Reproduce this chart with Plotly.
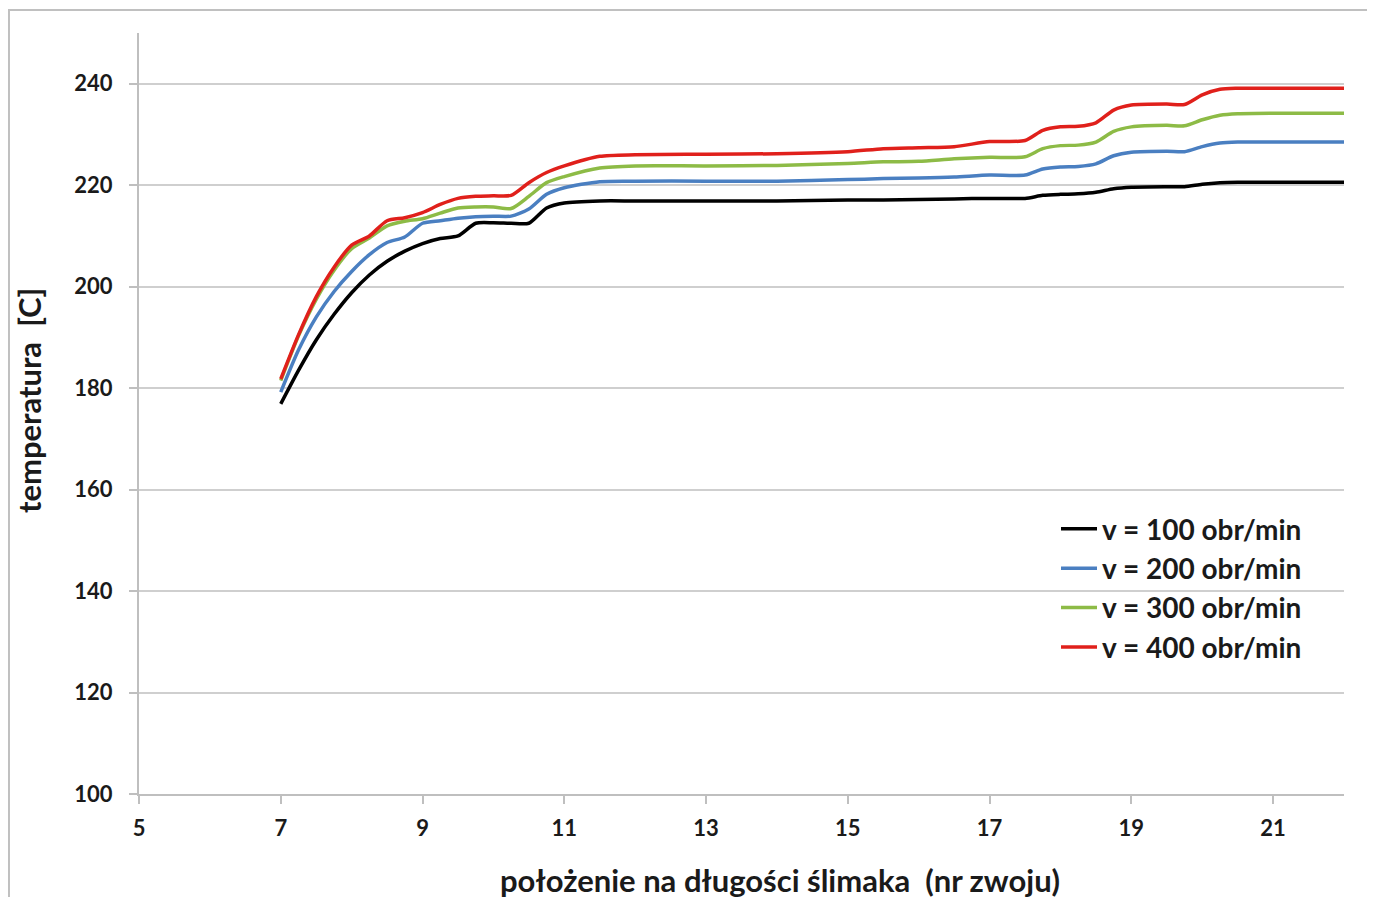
import plotly.graph_objects as go

x_pos = [7, 7.25, 7.5, 7.75, 8, 8.25, 8.5, 8.75, 9, 9.25, 9.5, 9.75, 10, 10.25, 10.5, 10.75,
         11, 11.5, 12, 13, 14, 15, 15.5, 16, 16.5, 17, 17.5, 17.75, 18, 18.25, 18.5, 18.75,
         19, 19.5, 19.75, 20, 20.25, 20.5, 21, 22]

t_100 = [176.9, 183.5, 189.5, 194.5, 198.8, 202.3, 205.0, 207.0, 208.5, 209.5, 210.0, 212.5,
         212.6, 212.5, 212.5, 215.5, 216.5, 216.9, 216.9, 216.9, 216.9, 217.1, 217.1, 217.2,
         217.3, 217.4, 217.4, 218.0, 218.2, 218.3, 218.6, 219.3, 219.6, 219.7, 219.7, 220.2,
         220.5, 220.6, 220.6, 220.6]
t_200 = [179.2, 187.5, 194.0, 199.0, 203.0, 206.3, 208.7, 209.8, 212.5, 213.0, 213.5, 213.8,
         213.9, 213.9, 215.3, 218.2, 219.5, 220.7, 220.8, 220.8, 220.8, 221.1, 221.3, 221.4,
         221.6, 222.0, 222.0, 223.2, 223.6, 223.7, 224.2, 225.8, 226.5, 226.7, 226.6, 227.6,
         228.3, 228.5, 228.5, 228.5]
t_300 = [181.5, 190.3, 197.5, 203.2, 207.5, 209.6, 212.0, 212.9, 213.4, 214.5, 215.5, 215.7,
         215.7, 215.4, 217.8, 220.5, 221.7, 223.4, 223.8, 223.8, 223.9, 224.3, 224.6, 224.7,
         225.2, 225.5, 225.6, 227.2, 227.8, 227.9, 228.5, 230.6, 231.5, 231.8, 231.7, 232.9,
         233.8, 234.1, 234.2, 234.2]
t_400 = [181.8, 190.5, 198.0, 203.8, 208.2, 210.0, 213.0, 213.6, 214.6, 216.2, 217.4, 217.8,
         217.9, 218.0, 220.5, 222.5, 223.8, 225.7, 226.0, 226.1, 226.2, 226.6, 227.2, 227.4,
         227.6, 228.6, 228.8, 230.8, 231.5, 231.6, 232.3, 234.8, 235.8, 236.0, 235.9, 237.8,
         238.9, 239.1, 239.1, 239.1]

series_names = ["v = 100 obr/min", "v = 200 obr/min", "v = 300 obr/min", "v = 400 obr/min"]
series_vals = [t_100, t_200, t_300, t_400]
series_colors = ["#000000", "#4a7fc1", "#8dbb46", "#e0201b"]

x_ticks = [5, 7, 9, 11, 13, 15, 17, 19, 21]
y_ticks = [100, 120, 140, 160, 180, 200, 220, 240]

x_title = "położenie na długości ślimaka  (nr zwoju)"
y_title = "temperatura  [C]"

FONT = "Lato"
TXT = "#1a1a1a"

fig = go.Figure()
for name, vals, col in zip(series_names, series_vals, series_colors):
    fig.add_trace(go.Scatter(
        x=x_pos, y=vals, mode="lines", name=name, legendgroup=name,
        line=dict(color=col, width=3.5, shape="spline", smoothing=0.7),
    ))

fig.update_layout(
    width=1375, height=897,
    margin=dict(l=131, r=39, t=25, b=111),
    paper_bgcolor="white", plot_bgcolor="white",
    font=dict(family=FONT, color=TXT),
    showlegend=True,
    legend=dict(
        x=0.761, y=0.381, xanchor="left", yanchor="top",
        font=dict(family=FONT, size=28, color=TXT, weight="bold"),
        bgcolor="rgba(0,0,0,0)", tracegroupgap=0, itemwidth=36,
    ),
    xaxis=dict(
        range=[5, 22], tickvals=x_ticks, ticktext=[str(v) for v in x_ticks],
        showgrid=False, zeroline=False,
        showline=True, linecolor="#bfbfbf", linewidth=2,
        ticks="outside", ticklen=8, tickcolor="#bfbfbf", tickwidth=2,
        ticklabelstandoff=6,
        tickfont=dict(family=FONT, size=22, color=TXT, weight="bold"),
    ),
    yaxis=dict(
        range=[100, 250], tickvals=y_ticks, ticktext=[str(v) for v in y_ticks],
        showgrid=True, gridcolor="#cfcfcf", gridwidth=2, zeroline=False,
        showline=True, linecolor="#bfbfbf", linewidth=2,
        ticks="outside", ticklen=8, tickcolor="#bfbfbf", tickwidth=2,
        ticklabelstandoff=12,
        tickfont=dict(family=FONT, size=22, color=TXT, weight="bold"),
    ),
    annotations=[
        dict(text=x_title, xref="paper", yref="paper",
             x=(780 - 139) / 1205, y=(794 - 880) / 761,
             xanchor="center", yanchor="middle", showarrow=False,
             font=dict(family=FONT, size=31, color=TXT, weight="bold")),
        dict(text=y_title, xref="paper", yref="paper", textangle=-90,
             x=(29 - 139) / 1205, y=(794 - 401) / 761,
             xanchor="center", yanchor="middle", showarrow=False,
             font=dict(family=FONT, size=31, color=TXT, weight="bold")),
    ],
    shapes=[dict(type="rect", xref="paper", yref="paper",
                 x0=-0.1079, x1=1.0216, y0=-0.15, y1=1.0302,
                 line=dict(color="#c0c0c0", width=2), fillcolor="rgba(0,0,0,0)",
                 layer="below")],
)

fig.write_html("out.html")
